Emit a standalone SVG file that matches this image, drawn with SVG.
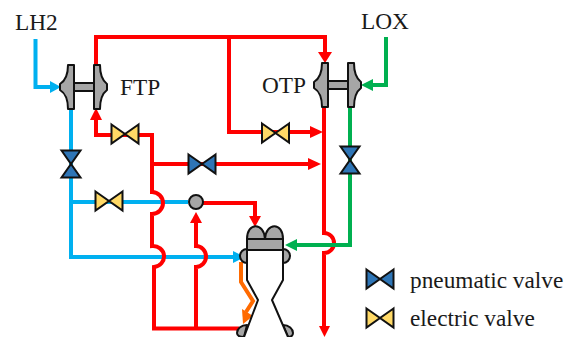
<svg xmlns="http://www.w3.org/2000/svg" width="570" height="337" viewBox="0 0 570 337">
<style>
text{font-family:"Liberation Serif","Times New Roman",serif;font-size:23.300px;fill:#1a1a1a}
.l{fill:none;stroke-width:4;stroke-linejoin:miter}
.r{stroke:#ff0000}.b{stroke:#00b0f0}.g{stroke:#00b050}.o{stroke:#ff6a00}
.s{fill:#a6a6a6;stroke:#111;stroke-width:2;stroke-linejoin:round}
.pv{fill:#2e75b6;stroke:#111;stroke-width:2;stroke-linejoin:miter}
.ev{fill:#ffd966;stroke:#111;stroke-width:2;stroke-linejoin:miter}
</style>
<defs>
<g id="hv"><path d="M-13.500-9.500L0 0L-13.500 9.500Z"/><path d="M13.500-9.500L0 0L13.500 9.500Z"/></g>
<g id="vv"><path d="M-9.500-13.500L0 0L9.500-13.500Z"/><path d="M-9.500 13.500L0 0L9.500 13.500Z"/></g>
<g id="pump" class="s">
<rect x="14" y="18" width="20" height="8"/>
<path d="M8 0H14V44H8C8 34 5 28 0 25V19C5 16 8 10 8 0Z"/>
<path d="M34 0H40C40 10 43 16 47 19V25C43 28 40 34 40 44H34Z"/>
</g>
</defs>
<g id="connectors">
<path class="l b" d="M35.500 39V87H50"/><path class="l b" d="M71 109V257H234"/><path class="l b" d="M71 202H188"/>
<path class="l r" d="M96 64V37H325V52"/><path class="l r" d="M229 37V132H310"/>
<path class="l r" d="M324 107V233A10 10 0 0 1 324 253V326"/>
<path class="l r" d="M96 120V135H152V192A11 11 0 0 1 152 214V246A11 10.500 0 0 1 154 267V328.500H239"/>
<path class="l r" d="M152 164H308"/>
<path class="l r" d="M196 328V267A10 10.500 0 0 0 196 246V223"/>
<path class="l r" d="M203 203H255V216"/>
<path class="l g" d="M386 37V85H373"/><path class="l g" d="M350 107V245H297"/>
<path class="l o" d="M241 262V282L253 301L246 312"/>
<g fill="#ff0000">
<path d="M318 52H332L325 63Z"/><path d="M310 126L323 132L310 138Z"/><path d="M308 158L321 164L308 170Z"/><path d="M90 120L96 108L102 120Z"/><path d="M190 223L196 212L202 223Z"/><path d="M249 216H261L255 227Z"/><path d="M319 326H330L324.500 337Z"/>
</g>
<path fill="#00b0f0" d="M233 251L245 257L233 263Z"/><path fill="#00b0f0" d="M50 81L61 87L50 93Z"/>
<path fill="#00b050" d="M373 79L361 85L373 91Z"/><path fill="#00b050" d="M297 239L285 245L297 251Z"/>
<path fill="#ff6a00" d="M242 309L253 316L243 324Z"/>
</g>
<g id="FTP"><use href="#pump" x="60" y="65"/><text x="120" y="95">FTP</text></g>
<g id="OTP"><use href="#pump" x="314" y="63"/><text x="262" y="93">OTP</text></g>
<g id="engine" class="s">
<circle cx="247" cy="256" r="7"/><circle cx="283" cy="256" r="7"/>
<path d="M247 325C241 325 237 329 237 333C237 336 239 337 244 337Z"/><path d="M283 325C289 325 293 329 293 333C293 336 291 337 288 337Z"/>
<path d="M247 239C247 222 264 222 265 239Z"/><path d="M265 239C266 222 283 222 283 239Z"/>
<path style="fill:#fff;stroke:none" d="M247 250V280L258 300L244 337H288L272 300L283 280V250Z"/>
<rect x="247" y="239" width="36" height="11"/>
<path style="fill:none" d="M247 250V280L258 300L244 337M283 250V280L272 300L288 337"/>
</g>
<g id="valve-lh2-main" class="pv"><use href="#vv" x="71" y="164"/></g>
<g id="valve-lox-main" class="pv"><use href="#vv" x="350" y="160"/></g>
<g id="valve-ftp" class="ev"><use href="#hv" x="125" y="134"/></g>
<g id="valve-otp" class="ev"><use href="#hv" x="275.500" y="133"/></g>
<g id="valve-mid" class="pv"><use href="#hv" x="202" y="164"/></g>
<g id="valve-lh2-bypass" class="ev"><use href="#hv" x="109" y="201"/></g>
<g id="mixer"><circle class="s" cx="196" cy="202" r="7"/></g>
<g id="LH2"><text x="15" y="30">LH2</text></g>
<g id="LOX"><text x="361" y="29">LOX</text></g>
<g id="legend-pneumatic"><g class="pv"><use href="#hv" x="380" y="279"/></g><text x="410" y="288">pneumatic valve</text></g>
<g id="legend-electric"><g class="ev"><use href="#hv" x="380" y="318"/></g><text x="410" y="326">electric valve</text></g>
</svg>
